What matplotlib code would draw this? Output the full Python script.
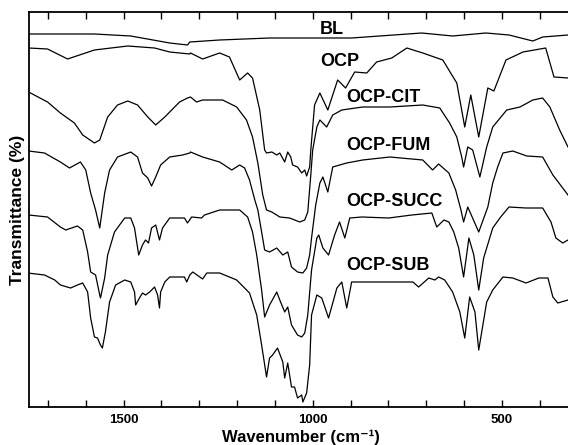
"""
IR spectra of OCP and its carboxylate-intercalated derivatives.
Stacked transmittance traces, offset vertically (arbitrary units).
"""

import matplotlib
matplotlib.use('Agg')
import matplotlib.pyplot as plt
from matplotlib.ticker import FixedLocator, FuncFormatter

plt.rcParams['font.family'] = ['Liberation Sans', 'DejaVu Sans']

# wavenumber (cm-1) / transmittance (arbitrary offset units)
bl_wn = [1751, 1577, 1481, 1378, 1331, 1325, 1246, 1114, 1003, 897, 712, 630,
         542, 481, 418, 392, 325]
bl_t = [373, 373, 371, 364, 362, 365, 367, 369, 369, 369, 374, 371,
        374, 372, 366, 370, 372]

ocp_wn = [1751, 1701, 1648, 1577, 1489, 1418, 1378, 1325, 1323, 1291, 1246, 1220,
          1193, 1172, 1159, 1140, 1127, 1122, 1108, 1095, 1087, 1074, 1066, 1058,
          1053, 1040, 1029, 1021, 1016, 1008, 1005, 995, 981, 960, 934, 913, 889,
          857, 831, 791, 751, 709, 656, 632, 619, 598, 582, 561, 537, 521, 489,
          444, 384, 362, 325]
ocp_t = [359, 358, 348, 357, 361, 359, 355, 353, 354, 348, 354, 350,
         327, 334, 329, 297, 257, 254, 255, 252, 254, 245, 255, 250,
         242, 240, 234, 237, 231, 240, 257, 302, 314, 297, 327, 319, 335,
         334, 345, 349, 359, 354, 347, 332, 324, 280, 312, 270, 319, 316, 347,
         355, 359, 330, 329]

cit_wn = [1751, 1701, 1667, 1630, 1608, 1577, 1563, 1542, 1516, 1489, 1463, 1436,
          1415, 1391, 1378, 1352, 1331, 1323, 1307, 1291, 1238, 1201, 1175, 1159,
          1145, 1132, 1122, 1108, 1087, 1061, 1034, 1021, 1013, 1005, 1000, 989,
          981, 963, 947, 923, 868, 796, 709, 664, 638, 619, 606, 601, 590, 577,
          558, 540, 524, 487, 452, 418, 392, 373, 347, 325]
cit_t = [315, 305, 294, 284, 272, 264, 267, 290, 302, 306, 302, 290,
         282, 290, 295, 305, 309, 310, 305, 307, 307, 300, 287, 270,
         244, 212, 197, 195, 190, 189, 185, 187, 195, 232, 257, 280,
         287, 280, 292, 297, 300, 300, 302, 299, 284, 270, 250, 240, 260, 257,
         230, 260, 280, 297, 300, 307, 309, 300, 277, 260]

fum_wn = [1751, 1709, 1667, 1643, 1614, 1600, 1587, 1574, 1563, 1550, 1537, 1516,
          1481, 1463, 1450, 1436, 1426, 1415, 1402, 1378, 1344, 1325, 1323, 1291,
          1246, 1214, 1193, 1180, 1167, 1153, 1145, 1135, 1127, 1114, 1095, 1079,
          1066, 1056, 1040, 1026, 1016, 1008, 1003, 992, 981, 973, 960, 947, 910,
          868, 796, 709, 683, 667, 640, 622, 608, 601, 590, 561, 537, 524, 511,
          497, 471, 434, 392, 365, 325]
fum_t = [256, 254, 245, 239, 245, 237, 214, 197, 179, 214, 237, 250,
         255, 250, 234, 229, 221, 230, 242, 250, 252, 254, 255, 250,
         245, 237, 242, 239, 227, 207, 197, 175, 157, 155, 159, 152,
         155, 140, 135, 134, 139, 152, 169, 202, 224, 230, 215, 240, 244,
         247, 250, 247, 237, 243, 234, 217, 197, 185, 200, 175, 200, 224, 240,
         254, 256, 251, 250, 232, 212]

succ_wn = [1751, 1701, 1667, 1653, 1622, 1608, 1595, 1587, 1574, 1563, 1561, 1550,
           1542, 1524, 1497, 1481, 1471, 1460, 1450, 1442, 1434, 1426, 1415, 1405,
           1397, 1378, 1339, 1331, 1320, 1294, 1286, 1246, 1193, 1172, 1159, 1148,
           1135, 1127, 1114, 1095, 1087, 1074, 1066, 1056, 1040, 1029, 1021, 1013,
           1003, 989, 984, 973, 958, 942, 929, 915, 902, 870, 799, 738, 685, 672,
           653, 640, 627, 614, 601, 587, 574, 561, 548, 524, 503, 481, 436, 392,
           370, 357, 339, 325]
succ_t = [192, 190, 180, 177, 181, 177, 155, 135, 132, 112, 109, 129,
          152, 175, 189, 189, 179, 152, 162, 167, 164, 179, 182, 167,
          179, 189, 189, 184, 190, 189, 192, 197, 197, 190, 175, 152,
          117, 90, 102, 115, 107, 95, 100, 82, 72, 70, 74, 92,
          137, 169, 172, 159, 152, 172, 185, 169, 189, 190, 189, 192, 194, 180,
          187, 185, 175, 159, 130, 169, 152, 117, 149, 179, 190, 200, 199, 199,
          185, 169, 164, 167]

sub_wn = [1754, 1709, 1682, 1667, 1640, 1622, 1608, 1595, 1587, 1577, 1569, 1561,
          1556, 1548, 1537, 1521, 1497, 1481, 1471, 1468, 1458, 1450, 1442, 1431,
          1418, 1410, 1405, 1402, 1391, 1378, 1339, 1333, 1325, 1317, 1291, 1280,
          1246, 1201, 1167, 1148, 1135, 1122, 1114, 1106, 1093, 1079, 1074, 1066,
          1056, 1048, 1040, 1029, 1026, 1016, 1008, 1003, 989, 976, 958, 936, 923,
          910, 897, 870, 783, 735, 720, 693, 677, 667, 651, 630, 611, 598, 585,
          571, 561, 540, 524, 497, 471, 436, 402, 378, 365, 352, 325]
sub_t = [134, 132, 127, 122, 119, 122, 124, 115, 89, 70, 69, 62,
         59, 75, 105, 122, 127, 125, 115, 102, 109, 114, 112, 115,
         120, 112, 99, 115, 125, 130, 130, 125, 132, 135, 128, 134,
         134, 127, 114, 92, 62, 30, 49, 52, 59, 45, 29, 44,
         20, 20, 9, 12, 5, 14, 42, 92, 112, 109, 89, 119, 125,
         99, 125, 125, 125, 125, 120, 129, 127, 130, 127, 115, 95, 69, 110,
         95, 57, 105, 117, 130, 129, 124, 129, 129, 110, 104, 107]

spectra = [
    ('BL', bl_wn, bl_t),
    ('OCP', ocp_wn, ocp_t),
    ('OCP-CIT', cit_wn, cit_t),
    ('OCP-FUM', fum_wn, fum_t),
    ('OCP-SUCC', succ_wn, succ_t),
    ('OCP-SUB', sub_wn, sub_t),
]

# label anchors (left edge, vertical centre)
label_pos = {
    'BL': (981, 378),
    'OCP': (981, 345),
    'OCP-CIT': (910, 310),
    'OCP-FUM': (910, 262),
    'OCP-SUCC': (910, 205),
    'OCP-SUB': (910, 142),
}

tick_wn = list(range(400, 1800, 100))
labelled_wn = [500, 1000, 1500]

fig = plt.figure(figsize=(5.68, 4.45), dpi=100)
ax = fig.add_axes([29 / 568, 38 / 445, 1 - 29 / 568, 395 / 445])

for name, wn, t in spectra:
    ax.plot(wn, t, color='black', lw=0.9, solid_joinstyle='round')
    x, y = label_pos[name]
    ax.text(x, y, name, ha='left', va='center', fontsize=13, fontweight='bold')

ax.set_xlim(1750, 325)
ax.set_ylim(0, 395)

ax.xaxis.set_major_locator(FixedLocator(tick_wn))
ax.xaxis.set_major_formatter(FuncFormatter(
    lambda v, pos: f'{int(v)}' if int(v) in labelled_wn else ''))
ax.tick_params(axis='x', direction='in', top=True, length=5, width=1,
               pad=5, labelsize=9.5)
for lbl in ax.get_xticklabels():
    lbl.set_fontweight('bold')
ax.set_yticks([])

for side in ['left', 'bottom', 'top']:
    ax.spines[side].set_linewidth(1.3)
ax.spines['right'].set_visible(False)

# x label sits just under the tick labels, flush with the bottom edge
ax.set_xlabel('Wavenumber (cm\u207b\u00b9)', fontsize=12, fontweight='bold')
ax.xaxis.set_label_coords(0.505, -0.096)
ax.xaxis.label.set_va('bottom')
ax.set_ylabel('Transmittance (%)', fontsize=12.5, fontweight='bold', labelpad=3)

fig.savefig('out.png', dpi=100)
plt.close(fig)
